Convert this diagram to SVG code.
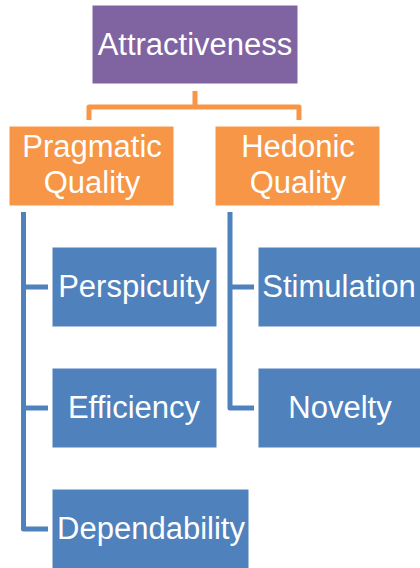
<svg xmlns="http://www.w3.org/2000/svg" width="420" height="568" viewBox="0 0 420 568">
<style>
.box{stroke:#ffffff;stroke-width:1}
.purple{fill:#8064A2}
.orange{fill:#F79646}
.blue{fill:#4F81BD}
.t{font-family:"Liberation Sans",Arial,sans-serif;font-size:31px;fill:#ffffff;text-anchor:middle}
.co{fill:none;stroke:#F79646;stroke-width:5;stroke-linejoin:round}
.cb{fill:none;stroke:#4F81BD;stroke-width:5;stroke-linejoin:round}
</style>
<rect width="420" height="568" fill="#ffffff"/>
<g id="connectors">
<path class="co" d="M195 91 V107 M89 120 V107 H299 V120"/>
<path class="cb" d="M23.5 212 V529 H48 M23.5 287 H48 M23.5 408 H48"/>
<path class="cb" d="M230 212 V408 H254 M230 287 H254"/>
</g>
<g id="attractiveness">
<rect class="box purple" x="92" y="5" width="206" height="79"/>
<text class="t" x="195" y="55">Attractiveness</text>
</g>
<g id="pragmatic">
<rect class="box orange" x="9" y="126" width="165" height="80"/>
<text class="t" x="92" y="157">Pragmatic</text>
<text class="t" x="92" y="193">Quality</text>
</g>
<g id="hedonic">
<rect class="box orange" x="215" y="126" width="165" height="80"/>
<text class="t" x="298" y="157">Hedonic</text>
<text class="t" x="298" y="193">Quality</text>
</g>
<g id="perspicuity">
<rect class="box blue" x="52" y="247" width="165" height="80"/>
<text class="t" x="134" y="297">Perspicuity</text>
</g>
<g id="efficiency">
<rect class="box blue" x="52" y="368" width="165" height="80"/>
<text class="t" x="134" y="418">Efficiency</text>
</g>
<g id="dependability">
<rect class="box blue" x="52" y="489" width="197" height="85"/>
<text class="t" x="151" y="539">Dependability</text>
</g>
<g id="stimulation">
<rect class="box blue" x="258" y="247" width="167" height="80"/>
<text class="t" x="339" y="297">Stimulation</text>
</g>
<g id="novelty">
<rect class="box blue" x="258" y="368" width="167" height="80"/>
<text class="t" x="340" y="418">Novelty</text>
</g>
</svg>
